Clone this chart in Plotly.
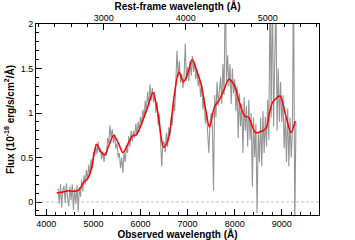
import plotly.graph_objects as go

# Redshift used for the rest-frame (top) axis
z = 0.74

# Smoothed model (red)
model_wl = [4220, 4330, 4450, 4600, 4700, 4780, 4886, 4957, 5000, 5063, 5150, 5240, 5330, 5430,
            5530, 5627, 5730, 5826, 5911, 6051, 6160, 6263, 6369, 6440, 6489, 6560, 6617,
            6722, 6814, 6913, 7004, 7097, 7190, 7288, 7380, 7464, 7570, 7676, 7780, 7873,
            7994, 8100, 8206, 8297, 8370, 8439, 8550, 8665, 8740, 8805, 8962, 9089, 9195, 9286]
model_flux = [0.10, 0.11, 0.125, 0.12, 0.14, 0.21, 0.27, 0.37, 0.50, 0.65, 0.57, 0.53, 0.64, 0.75,
              0.66, 0.555, 0.65, 0.74, 0.755, 0.92, 1.08, 1.23, 1.00, 0.72, 0.615, 0.66, 0.77,
              1.22, 1.46, 1.35, 1.45, 1.60, 1.48, 1.32, 1.05, 0.84, 1.07, 1.15, 1.27, 1.38,
              1.31, 1.12, 0.97, 0.95, 0.86, 0.78, 0.79, 0.83, 1.00, 1.12, 1.19, 0.96, 0.78, 0.91]

# Observed spectrum (grey), sampled every 25 A from 4250 A
spec_start = 4250
spec_step = 25
spec_flux = [
    0.15, -0.02, 0.20, -0.06, 0.14, 0.18, -0.01, 0.21, 0.05, -0.05,
    0.17, 0.02, 0.20, -0.09, 0.15, -0.02, 0.19, -0.11, 0.17, 0.06,
    0.25, 0.12, 0.30, 0.20, 0.36, 0.24, 0.42, 0.30, 0.48, 0.38,
    0.56, 0.52, 0.64, 0.54, 0.68, 0.56, 0.60, 0.48, 0.57, 0.45,
    0.56, 0.52, 0.72, 0.66, 0.86, 0.72, 0.82, 0.66, 0.76, 0.60,
    0.66, 0.50, 0.55, 0.38, 0.50, 0.33, 0.56, 0.45, 0.64, 0.55,
    0.74, 0.62, 0.80, 0.68, 0.80, 0.72, 0.88, 0.74, 0.90, 0.80,
    0.96, 0.86, 1.04, 0.94, 1.14, 1.00, 1.24, 1.08, 1.32, 1.14,
    1.28, 1.12, 1.24, 1.00, 1.12, 0.86, 0.98, 0.70, 0.40, 0.66,
    0.68, 0.56, 0.78, 0.62, 0.84, 0.74, 0.96, 0.86, 1.14, 1.02,
    1.46, 1.70, 1.40, 1.58, 1.34, 1.44, 1.28, 1.42, 1.78, 1.36,
    1.52, 1.36, 1.58, 1.42, 1.64, 1.46, 1.58, 1.38, 1.48, 1.30,
    1.40, 1.18, 1.32, 1.04, 1.18, 0.88, 1.02, 0.74, 0.55, 0.88,
    1.00, 0.85, 0.13, 1.20, 0.95, 1.35, 1.08, 1.25, 1.40, 1.10,
    1.55, 1.20, 2.60, 1.35, 1.65, 1.30, 1.55, 1.10, 1.50, 1.22,
    1.38, 1.02, 1.30, 0.72, 1.22, 0.85, 1.10, 0.55, 1.18, 0.80,
    1.08, 0.62, 1.15, 0.70, 1.00, 0.17, 0.95, 0.50, 0.88, -0.13,
    0.78, 0.45, 0.95, 0.40, 1.02, 0.55, 0.96, 0.62, 1.15, 0.70,
    2.40, 0.95, 2.50, 0.85, 1.45, 2.30, 0.80, 1.50, 0.90, 1.35,
    0.90, 1.20, 0.60, 0.95, 0.45, 1.05, 0.40, 0.95, 0.50, 0.80,
    2.60, -0.30, 0.90,
]
spec_wl = [spec_start + i * spec_step for i in range(len(spec_flux))]

obs_range = [3780, 9790]
yticks = [0, 0.5, 1, 1.5, 2]
yticktext = ["0", "0.5", "1", "1.5", "2"]

FONT = "Liberation Sans"
fig = go.Figure()

fig.add_trace(go.Scatter(x=spec_wl, y=spec_flux, mode="lines",
                         line=dict(color="rgb(150,150,150)", width=1.1),
                         hoverinfo="skip", showlegend=False))
fig.add_trace(go.Scatter(x=model_wl, y=model_flux, mode="lines",
                         line=dict(color="#ff0000", width=1.5, shape="spline", smoothing=0.8),
                         showlegend=False))
# invisible trace anchoring the rest-frame axis
fig.add_trace(go.Scatter(x=[w / (1 + z) for w in model_wl], y=model_flux, xaxis="x2",
                         mode="lines", line=dict(width=0), opacity=0,
                         hoverinfo="skip", showlegend=False))

fig.add_hline(y=0, line=dict(color="rgb(170,170,170)", width=0.7, dash="3px,2px"))

axis_font = dict(family=FONT, size=9, color="black")
title_font = dict(family=FONT, size=10, color="black")

fig.update_layout(
    width=355, height=240,
    margin=dict(l=36, r=36, t=24, b=25),
    paper_bgcolor="white", plot_bgcolor="white",
    showlegend=False,
    xaxis=dict(
        range=obs_range, showgrid=False, zeroline=False,
        showline=True, linecolor="black", linewidth=1, mirror=True,
        ticks="inside", ticklen=6, tickwidth=1, tickcolor="black",
        tick0=0, dtick=1000, tickformat="d",
        minor=dict(ticks="inside", ticklen=3, tickwidth=1, tickcolor="black", tick0=0, dtick=200),
        tickfont=axis_font,
        title=dict(text="<b>Observed wavelength (Å)</b>", font=title_font, standoff=2),
        automargin=False,
    ),
    xaxis2=dict(
        overlaying="x", side="top",
        range=[obs_range[0] / (1 + z), obs_range[1] / (1 + z)],
        showgrid=False, zeroline=False, showline=False,
        ticks="inside", ticklen=6, tickwidth=1, tickcolor="black",
        tick0=0, dtick=1000, tickformat="d",
        minor=dict(ticks="inside", ticklen=3, tickwidth=1, tickcolor="black", tick0=0, dtick=200),
        tickfont=axis_font,
        title=dict(text="<b>Rest-frame wavelength (Å)</b>", font=title_font, standoff=2),
        automargin=False,
    ),
    yaxis=dict(
        range=[-0.146, 2], showgrid=False, zeroline=False,
        showline=True, linecolor="black", linewidth=1, mirror=True,
        ticks="inside", ticklen=6, tickwidth=1, tickcolor="black",
        tickvals=yticks, ticktext=yticktext,
        minor=dict(ticks="inside", ticklen=3, tickwidth=1, tickcolor="black", tick0=0, dtick=0.1),
        tickfont=axis_font,
        title=dict(text="<b>Flux (10<sup>-18</sup> erg/s/cm<sup>2</sup>/Å)</b>", font=title_font, standoff=4),
        automargin=False,
    ),
)

fig.write_html("out.html", config={"displayModeBar": False},
               post_script="document.body.style.margin='0';")
